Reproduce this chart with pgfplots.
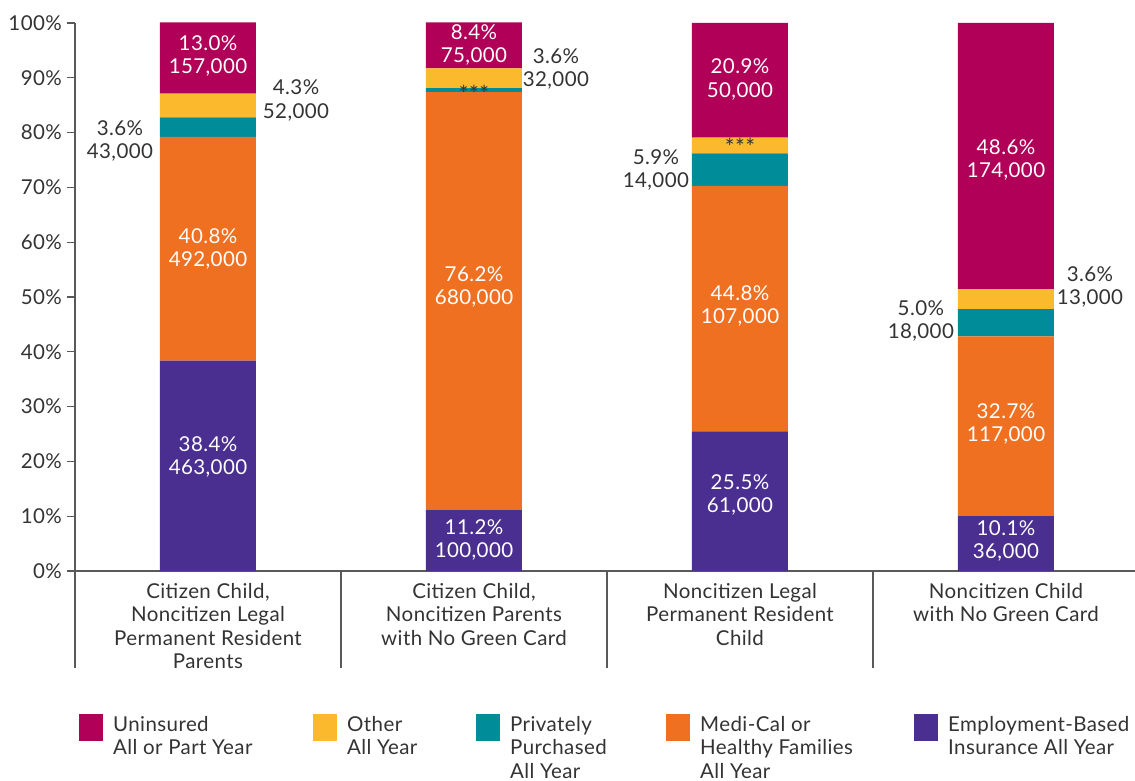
\documentclass[border=0pt]{standalone}
\usepackage{pgfplots}
\pgfplotsset{compat=1.18}
\usepackage{pgfplotstable}
\usepackage{fontspec}
\setmainfont{Lato}[LetterSpace=2]
\definecolor{cUn}{HTML}{B10058}
\definecolor{cOth}{HTML}{FBB92D}
\definecolor{cPriv}{HTML}{008C99}
\definecolor{cMed}{HTML}{F07022}
\definecolor{cEmp}{HTML}{4A2F91}
\definecolor{axisgray}{HTML}{595959}
\definecolor{textgray}{HTML}{333333}
\newcommand{\smallstars}{\fontsize{23pt}{23pt}\selectfont}
\pgfplotstableread{
x emp med priv oth unins
0 38.4 40.8 3.6 4.3 13.0
1 11.2 76.2 0.7 3.6 8.4
2 25.5 44.8 5.9 2.9 20.9
3 10.1 32.7 5.0 3.6 48.6
}\mytable
\begin{document}
\fontsize{20.5pt}{23.5pt}\selectfont
\begin{tikzpicture}
\useasboundingbox (0pt,0pt) rectangle (1135pt,-781pt);
\begin{axis}[
  at={(75pt,-571pt)}, anchor=south west,
  scale only axis, width=1060pt, height=548pt,
  ybar stacked, bar width=96pt,
  xmin=-0.5, xmax=3.485, ymin=0, ymax=100,
  axis x line=bottom, axis y line=left,
  axis line style={-, draw=axisgray, line width=1.2pt},
  xtick={0,1,2,3},
  xticklabels={{Citizen Child,\\Noncitizen Legal\\Permanent Resident\\Parents},
               {Citizen Child,\\Noncitizen Parents\\with No Green Card},
               {Noncitizen Legal\\Permanent Resident\\Child},
               {Noncitizen Child\\with No Green Card}},
  x tick style={draw=none},
  xticklabel style={align=center, anchor=north, text=textgray, inner sep=0pt, yshift=-4pt},
  ytick={0,10,20,30,40,50,60,70,80,90,100},
  yticklabel={\pgfmathprintnumber{\tick}\%},
  y tick style={draw=axisgray, line width=1.2pt},
  tick align=outside, major tick length=8pt,
  yticklabel style={text=textgray, inner sep=0pt, xshift=-5pt},
  /pgf/number format/assume math mode=true,
  clip=false,
]
\addplot[fill=cEmp, draw=none] table[x=x,y=emp]{\mytable};
\addplot[fill=cMed, draw=none] table[x=x,y=med]{\mytable};
\addplot[fill=cPriv, draw=none] table[x=x,y=priv]{\mytable};
\addplot[fill=cOth, draw=none] table[x=x,y=oth]{\mytable};
\addplot[fill=cUn, draw=none] table[x=x,y=unins]{\mytable};

\draw[axisgray, line width=1.2pt] (axis cs:-0.5,0) -- ++(0pt,-97pt);
\draw[axisgray, line width=1.2pt] (axis cs:0.5,0) -- ++(0pt,-97pt);
\draw[axisgray, line width=1.2pt] (axis cs:1.5,0) -- ++(0pt,-97pt);
\draw[axisgray, line width=1.2pt] (axis cs:2.5,0) -- ++(0pt,-97pt);

\coordinate (a1) at (axis cs:0,94.0);
\coordinate (a2) at (axis cs:0,58.8);
\coordinate (a3) at (axis cs:0,20.8);
\coordinate (b1) at (axis cs:1,96.0);
\coordinate (b2) at (axis cs:1,51.8);
\coordinate (b3) at (axis cs:1,5.7);
\coordinate (c1) at (axis cs:2,89.7);
\coordinate (c2) at (axis cs:2,48.4);
\coordinate (c3) at (axis cs:2,13.9);
\coordinate (d1) at (axis cs:3,75.0);
\coordinate (d2) at (axis cs:3,26.8);
\coordinate (d3) at (axis cs:3,5.5);
\coordinate (o1) at (axis cs:-0.331,78.5);
\coordinate (o2) at (axis cs:0.331,85.9);
\coordinate (o3) at (axis cs:1.308,91.6);
\coordinate (o4) at (axis cs:1.684,73.2);
\coordinate (o5) at (axis cs:2.680,45.6);
\coordinate (o6) at (axis cs:3.316,51.8);
\coordinate (s1) at (axis cs:1,87.0);
\coordinate (s2) at (axis cs:2,77.4);
\end{axis}

\begin{scope}[every node/.style={align=center, text=white, inner sep=0pt}]
\node at (a1) {13.0\%\\157,000};
\node at (a2) {40.8\%\\492,000};
\node at (a3) {38.4\%\\463,000};
\node at (b1) {8.4\%\\75,000};
\node at (b2) {76.2\%\\680,000};
\node at (b3) {11.2\%\\100,000};
\node at (c1) {20.9\%\\50,000};
\node at (c2) {44.8\%\\107,000};
\node at (c3) {25.5\%\\61,000};
\node at (d1) {48.6\%\\174,000};
\node at (d2) {32.7\%\\117,000};
\node at (d3) {10.1\%\\36,000};
\end{scope}
\begin{scope}[every node/.style={align=center, text=textgray, inner sep=0pt}]
\node at (o1) {3.6\%\\43,000};
\node at (o2) {4.3\%\\52,000};
\node at (o3) {3.6\%\\32,000};
\node at (o4) {5.9\%\\14,000};
\node at (o5) {5.0\%\\18,000};
\node at (o6) {3.6\%\\13,000};
\node[font=\smallstars] at (s1) {***};
\node[font=\smallstars] at (s2) {***};
\end{scope}

\fill[cUn] (79pt,-714pt) rectangle (103pt,-741pt);
\node[anchor=north west, align=left, inner sep=0pt, text=textgray] at (113pt,-716pt) {Uninsured\\All or Part Year};
\fill[cOth] (313pt,-714pt) rectangle (337pt,-741pt);
\node[anchor=north west, align=left, inner sep=0pt, text=textgray] at (347pt,-716pt) {Other\\All Year};
\fill[cPriv] (476pt,-714pt) rectangle (500pt,-741pt);
\node[anchor=north west, align=left, inner sep=0pt, text=textgray] at (510pt,-716pt) {Privately\\Purchased\\All Year};
\fill[cMed] (666pt,-714pt) rectangle (690pt,-741pt);
\node[anchor=north west, align=left, inner sep=0pt, text=textgray] at (700pt,-716pt) {Medi-Cal or\\Healthy Families\\All Year};
\fill[cEmp] (914pt,-714pt) rectangle (938pt,-741pt);
\node[anchor=north west, align=left, inner sep=0pt, text=textgray] at (948pt,-716pt) {Employment-Based\\Insurance All Year};
\end{tikzpicture}
\end{document}
